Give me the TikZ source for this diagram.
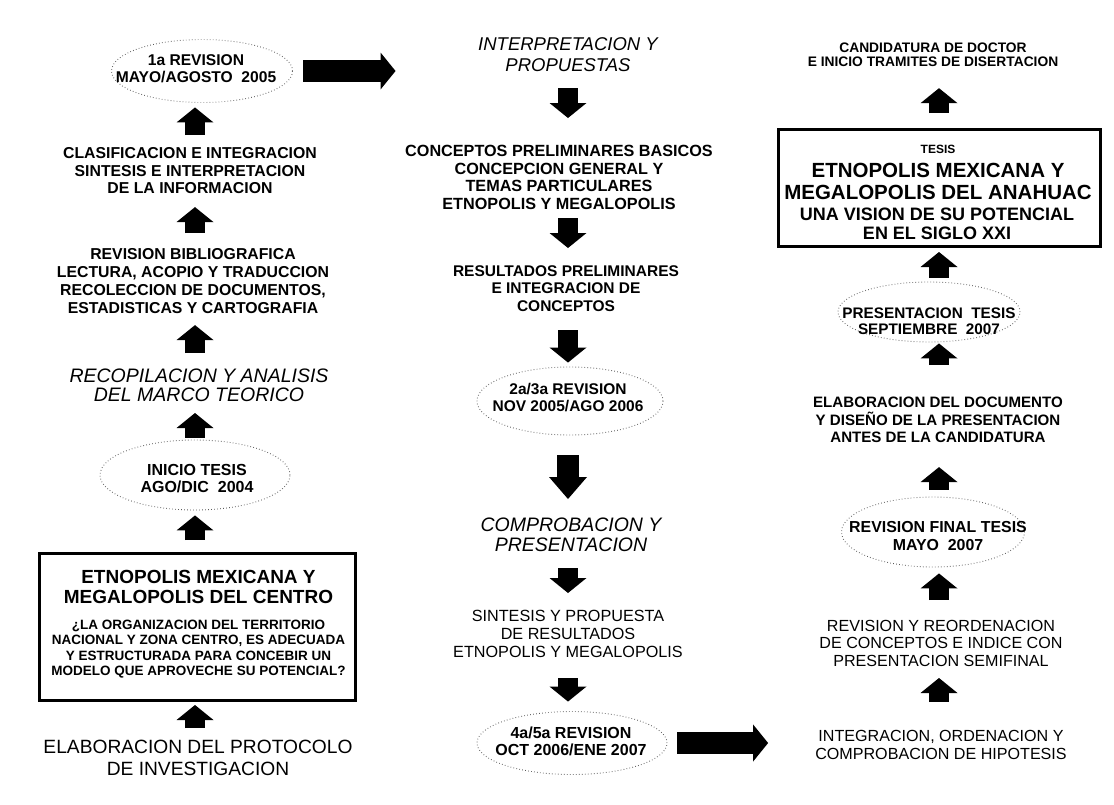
\documentclass[tikz,border=0pt]{standalone}
\usepackage{fontspec}
\setmainfont{Liberation Sans}
\usetikzlibrary{arrows.meta,shapes.geometric}
\newcommand\setfs[2]{\fontsize{#1}{#2}\selectfont}
\tikzset{
  txt/.style={inner sep=0pt, anchor=north, align=center, text=black},
  revell/.style={ellipse, draw=black!65, line width=0.9pt, dash pattern=on 0.7pt off 2.3pt, inner sep=0pt},
  thickbox/.style={rectangle, draw=black, line width=3pt, inner sep=0pt},
  blkarrow/.style={draw=black, line width=20pt, -{Triangle[width=37pt,length=15pt,line width=0pt]}},
  bigarrow/.style={draw=black, line width=22pt, -{Triangle[width=38pt,length=22pt,line width=0pt]}},
}
\begin{document}
\begin{tikzpicture}[x=1pt,y=-1pt]
\useasboundingbox (0,0) rectangle (1114,804);
\coordinate (c1) at (195,0);
\coordinate (c2) at (568,0);
\coordinate (c3) at (939,0);

% ---------- column 1 ----------
\node[revell, minimum width=181pt, minimum height=63pt] (E1) at (202,71) {};
\node[txt, anchor=center, font=\setfs{15.6}{17}\bfseries] (E1t) at (196,69) {1a REVISION\\MAYO/AGOSTO\ \ 2005};
\node[txt, font=\setfs{15.8}{17.8}\bfseries] (T1) at (190,147) {CLASIFICACION E INTEGRACION\\SINTESIS E INTERPRETACION\\DE LA INFORMACION};
\node[txt, font=\setfs{15.8}{18}\bfseries] (T2) at (193,248) {REVISION BIBLIOGRAFICA\\LECTURA, ACOPIO Y TRADUCCION\\RECOLECCION DE DOCUMENTOS,\\ESTADISTICAS Y CARTOGRAFIA};
\node[txt, font=\setfs{19.5}{18.5}\itshape] (T3) at (199,369) {RECOPILACION Y ANALISIS\\DEL MARCO TEORICO};
\node[revell, minimum width=190pt, minimum height=70pt] (E2) at (195,475) {};
\node[txt, anchor=center, font=\setfs{16}{17}\bfseries] (E2t) at (197,479) {INICIO TESIS\\AGO/DIC\ \ 2004};
\node[thickbox, minimum width=316pt, minimum height=147pt] (B1) at (197.5,627) {};
\node[txt, font=\setfs{19}{20.5}\bfseries] (B1a) at (198.5,570) {ETNOPOLIS MEXICANA Y\\MEGALOPOLIS DEL CENTRO};
\node[txt, font=\setfs{13.5}{15.3}\bfseries] (B1b) at (198.5,620) {¿LA ORGANIZACION DEL TERRITORIO\\NACIONAL Y ZONA CENTRO, ES ADECUADA\\Y ESTRUCTURADA PARA CONCEBIR UN\\MODELO QUE APROVECHE SU POTENCIAL?};
\node[txt, font=\setfs{19.2}{22}] (T4) at (198,740) {ELABORACION DEL PROTOCOLO\\DE INVESTIGACION};

% ---------- column 2 ----------
\node[txt, font=\setfs{18.5}{21}\itshape] (T5) at (568,37) {INTERPRETACION Y\\PROPUESTAS};
\node[txt, font=\setfs{16.2}{17.5}\bfseries] (T6) at (559,145) {CONCEPTOS PRELIMINARES BASICOS\\CONCEPCION GENERAL Y\\TEMAS PARTICULARES\\ETNOPOLIS Y MEGALOPOLIS};
\node[txt, font=\setfs{15.5}{17.5}\bfseries] (T7) at (566,265) {RESULTADOS PRELIMINARES\\E INTEGRACION DE\\CONCEPTOS};
\node[revell, minimum width=186pt, minimum height=68pt] (E3) at (570,401) {};
\node[txt, anchor=center, font=\setfs{15.5}{17}\bfseries] (E3t) at (568,398) {2a/3a REVISION\\NOV 2005/AGO 2006};
\node[txt, font=\setfs{19.5}{20}\itshape] (T8) at (571,518) {COMPROBACION Y\\PRESENTACION};
\node[txt, font=\setfs{16.2}{18}] (T9) at (568,610) {SINTESIS Y PROPUESTA\\DE RESULTADOS\\ETNOPOLIS Y MEGALOPOLIS};
\node[revell, minimum width=190pt, minimum height=63pt] (E4) at (572,743) {};
\node[txt, anchor=center, font=\setfs{16}{17.5}\bfseries] (E4t) at (571,741.5) {4a/5a REVISION\\OCT 2006/ENE 2007};

% ---------- column 3 ----------
\node[txt, font=\setfs{13.8}{14}\bfseries] (T10) at (933,43) {CANDIDATURA DE DOCTOR\\E INICIO TRAMITES DE DISERTACION};
\node[thickbox, minimum width=322pt, minimum height=117pt] (B2) at (939.5,188) {};
\node[txt, font=\setfs{12}{12}\bfseries] (B2a) at (938,145) {TESIS};
\node[txt, font=\setfs{20.5}{21.5}\bfseries] (B2b) at (938,163) {ETNOPOLIS MEXICANA Y\\MEGALOPOLIS DEL ANAHUAC};
\node[txt, font=\setfs{18}{19}\bfseries] (B2c) at (937,208) {UNA VISION DE SU POTENCIAL\\EN EL SIGLO XXI};
\node[revell, minimum width=182pt, minimum height=60pt] (E5) at (929,312) {};
\node[txt, anchor=center, font=\setfs{15.3}{15.5}\bfseries] (E5t) at (929,321) {PRESENTACION\ \ TESIS\\SEPTIEMBRE\ \ 2007};
\node[txt, font=\setfs{15.1}{17.5}\bfseries] (T11) at (938,397) {ELABORACION DEL DOCUMENTO\\Y DISEÑO DE LA PRESENTACION\\ANTES DE LA CANDIDATURA};
\node[revell, minimum width=183pt, minimum height=70pt] (E6) at (933,532) {};
\node[txt, anchor=center, font=\setfs{15.9}{17.5}\bfseries] (E6t) at (938,536) {REVISION FINAL TESIS\\MAYO\ \ 2007};
\node[txt, font=\setfs{16.1}{17.5}] (T12) at (941,620) {REVISION Y REORDENACION\\DE CONCEPTOS E INDICE CON\\PRESENTACION SEMIFINAL};
\node[txt, font=\setfs{16.1}{18.5}] (T13) at (941,730) {INTEGRACION, ORDENACION Y\\COMPROBACION DE HIPOTESIS};

% ---------- arrows column 1 (upwards) ----------
\draw[blkarrow, shorten <=12pt, shorten >=4.5pt] (T1.north -| c1) -- (E1.south -| c1);
\draw[blkarrow, shorten <=15pt, shorten >=12.9pt] (T2.north -| c1) -- (T1.south -| c1);
\draw[blkarrow, shorten <=16pt, shorten >=11.5pt] (T3.north -| c1) -- (T2.south -| c1);
\draw[blkarrow, shorten <=2pt, shorten >=11.3pt] (E2.north -| c1) -- (T3.south -| c1);
\draw[blkarrow, shorten <=12pt, shorten >=5pt] (B1.north -| c1) -- (E2.south -| c1);
\draw[blkarrow, shorten <=12pt, shorten >=3pt] (T4.north -| c1) -- (B1.south -| c1);

% ---------- arrows column 2 (downwards) ----------
\draw[blkarrow, shorten <=16.5pt, shorten >=27pt] (T5.south -| c2) -- (T6.north -| c2);
\draw[blkarrow, shorten <=8.7pt, shorten >=17pt] (T6.south -| c2) -- (T7.north -| c2);
\draw[blkarrow, shorten <=18.7pt, shorten >=4pt] (T7.south -| c2) -- (E3.north -| c2);
\draw[bigarrow, shorten <=20pt, shorten >=19pt] (E3.south -| c2) -- (T8.north -| c2);
\draw[blkarrow, shorten <=15.8pt, shorten >=17pt] (T8.south -| c2) -- (T9.north -| c2);
\draw[blkarrow, shorten <=20.2pt, shorten >=9.5pt] (T9.south -| c2) -- (E4.north -| c2);

% ---------- arrows column 3 (upwards) ----------
\draw[blkarrow, shorten <=15pt, shorten >=21pt] (B2.north -| c3) -- (T10.south -| c3);
\draw[blkarrow, shorten <=4pt, shorten >=4pt] (E5.north -| c3) -- (B2.south -| c3);
\draw[blkarrow, shorten <=32pt, shorten >=1pt] (T11.north -| c3) -- (E5.south -| c3);
\draw[blkarrow, shorten <=7pt, shorten >=24pt] (E6.north -| c3) -- (T11.south -| c3);
\draw[blkarrow, shorten <=20pt, shorten >=6pt] (T12.north -| c3) -- (E6.south -| c3);
\draw[blkarrow, shorten <=28pt, shorten >=11.2pt] (T13.north -| c3) -- (T12.south -| c3);

% ---------- horizontal arrows ----------
\draw[blkarrow, line width=22pt, shorten <=10.5pt, shorten >=82.5pt] (E1.east) -- (E1.east -| T5.west);
\draw[blkarrow, line width=22pt, shorten <=10pt, shorten >=47pt] (E4.east) -- (E4.east -| T13.west);
\end{tikzpicture}
\end{document}
